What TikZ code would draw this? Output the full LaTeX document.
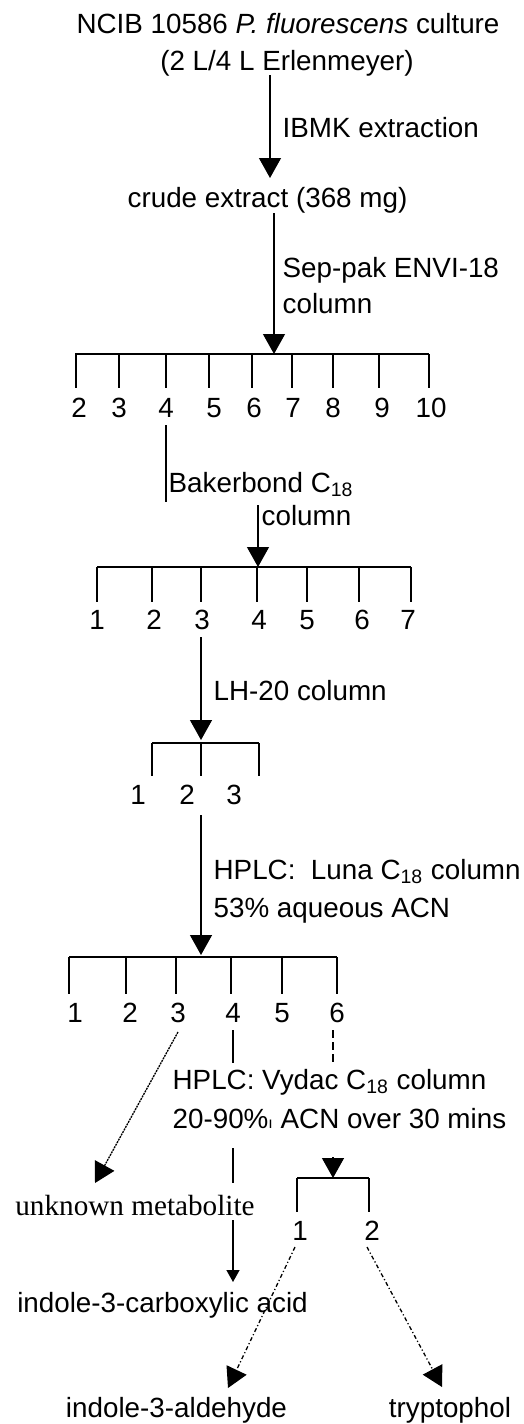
\documentclass[tikz,border=0pt]{standalone}
\usepackage{fontspec}
\setmainfont{Liberation Sans}
\newfontfamily\seriffam{Liberation Serif}
\usetikzlibrary{arrows.meta}
\newcommand{\fsz}{\fontsize{13.9}{16}\selectfont}
\begin{document}
\begin{tikzpicture}[x=0.5pt,y=-0.5pt,line width=0.65pt,
  txt/.style={font=\fsz,inner sep=0pt},
  lt/.style={txt,anchor=base west},
  ct/.style={txt,anchor=base},
  arr/.style={-{Triangle[length=10pt,width=11pt]}},
  sarr/.style={-{Triangle[length=6pt,width=6.5pt]}},
  dsh/.style={dash pattern=on 4pt off 2pt},
  dtt/.style={dash pattern=on 1pt off 0.45pt},
  dshdot/.style={dash pattern=on 2pt off 1.2pt on 0.6pt off 1.2pt}]
\useasboundingbox (0,0) rectangle (524,1424);

% title
\node[ct] (t1) at (288,33) {NCIB 10586 \textit{P. fluorescens} culture};
\node[ct] (t2) at (287,70) {(2 L/4 L Erlenmeyer)};
\coordinate (a1s) at (270,75);
\coordinate (a1e) at (270,178);
\draw[arr] (a1s) -- (a1e);
\node[lt] (ibmk) at (282,137) {IBMK extraction};

\node[ct] (crude) at (267.5,207) {crude extract (368 mg)};
\coordinate (a2s) at (274,213);
\coordinate (a2e) at (274,354);
\draw[arr] (a2s) -- (a2e);
\node[lt] (sep1) at (282,277) {Sep-pak ENVI-18};
\node[lt] (sep2) at (282,313) {column};

% bar 1
\coordinate (b1l) at (75,354);
\coordinate (b1r) at (429,354);
\draw (b1l) -- (b1r);
\foreach \x/\lx/\n in {76/79/2,119/119/3,166/166/4,209/214/5,252/254/6,292/293/7,333/333/8,379/382/9,429/431/10}{
  \coordinate (b1t\n) at (\x,354);
  \coordinate (b1b\n) at (\x,388);
  \draw (b1t\n) -- (b1b\n);
  \node[ct] (f1\n) at (\lx,417) {\n};
}
\coordinate (c4a) at (166,425);
\coordinate (c4b) at (166,502);
\draw (c4a) -- (c4b);
\node[lt] (bak) at (168,492) {Bakerbond C\textsubscript{18}};
\coordinate (a3s) at (258,505);
\coordinate (a3e) at (258,567);
\draw[arr] (a3s) -- (a3e);
\node[lt] (bak2) at (261,525) {column};

% bar 2
\coordinate (b2l) at (97,567);
\coordinate (b2r) at (411,567);
\draw (b2l) -- (b2r);
\foreach \x/\lx/\n in {97/97/1,152/154/2,201/202/3,257/259/4,307/307/5,359/362/6,411/408/7}{
  \coordinate (b2t\n) at (\x,567);
  \coordinate (b2b\n) at (\x,602);
  \draw (b2t\n) -- (b2b\n);
  \node[ct] (f2\n) at (\lx,629) {\n};
}
\coordinate (a4s) at (201,637);
\coordinate (a4e) at (201,740);
\draw[arr] (a4s) -- (a4e);
\node[lt] (lh) at (213,700) {LH-20 column};

% bar 3
\coordinate (b3l) at (152,743);
\coordinate (b3r) at (259,743);
\draw (b3l) -- (b3r);
\foreach \x/\lx/\n in {152/138/1,201/187/2,259/234/3}{
  \coordinate (b3t\n) at (\x,743);
  \coordinate (b3b\n) at (\x,776);
  \draw (b3t\n) -- (b3b\n);
  \node[ct] (f3\n) at (\lx,804) {\n};
}
\coordinate (a5s) at (201,815);
\coordinate (a5e) at (201,955);
\draw[arr] (a5s) -- (a5e);
\node[lt] (luna) at (213,879) {HPLC:\ \ Luna C\textsubscript{18} column};
\node[lt] (aq) at (213,917) {53\% aqueous ACN};

% bar 4
\coordinate (b4l) at (69,957);
\coordinate (b4r) at (337,957);
\draw (b4l) -- (b4r);
\foreach \x/\lx/\n in {69/75/1,126/130/2,176/178/3,231/233/4,282/282/5,337/337/6}{
  \coordinate (b4t\n) at (\x,957);
  \coordinate (b4b\n) at (\x,994);
  \draw (b4t\n) -- (b4b\n);
  \node[ct] (f4\n) at (\lx,1022) {\n};
}

% fraction 3 -> unknown metabolite
\node[ct,font=\seriffam\fontsize{14.6}{16}\selectfont] (unk) at (135,1215) {unknown metabolite};
\coordinate (d3s) at (178,1032);
\coordinate (d3e) at (95,1183);
\draw[arr,dtt] (d3s) -- (d3e);

% fraction 4 -> indole-3-carboxylic acid
\node[lt] (vyd) at (172,1089) {HPLC: Vydac C\textsubscript{18} column};
\node[lt] (grad) at (172,1128) {20-90\%{\fontsize{8}{8}\selectfont ı} ACN over 30 mins};
\coordinate (c4s1) at (233,1030);
\coordinate (c4e1) at (233,1063);
\coordinate (c4s2) at (233,1148);
\coordinate (c4e2) at (233,1183);
\coordinate (c4s3) at (233,1220);
\coordinate (c4e3) at (233,1282);
\draw (c4s1) -- (c4e1);
\draw (c4s2) -- (c4e2);
\draw[sarr] (c4s3) -- (c4e3);
\node[ct] (ica) at (162.5,1312) {indole-3-carboxylic acid};

% fraction 6 -> bar 5
\coordinate (c6s) at (333,1030);
\coordinate (c6e) at (333,1065);
\draw[dsh] (c6s) -- (c6e);
\coordinate (a6s) at (333,1157);
\coordinate (a6e) at (333,1178);
\draw[arr] (a6s) -- (a6e);

% bar 5
\coordinate (b5l) at (297,1178);
\coordinate (b5r) at (369,1178);
\draw (b5l) -- (b5r);
\foreach \x/\lx/\n in {297/300/1,369/372/2}{
  \coordinate (b5t\n) at (\x,1178);
  \coordinate (b5b\n) at (\x,1212);
  \draw (b5t\n) -- (b5b\n);
  \node[ct] (f5\n) at (\lx,1240) {\n};
}
\node[ct] (ald) at (176.5,1417) {indole-3-aldehyde};
\node[ct] (try) at (450,1417) {tryptophol};
\coordinate (e1s) at (295,1247);
\coordinate (e1e) at (228,1388);
\coordinate (e2s) at (367,1247);
\coordinate (e2e) at (442,1387);
\draw[arr,dshdot] (e1s) -- (e1e);
\draw[arr,dshdot] (e2s) -- (e2e);
\end{tikzpicture}
\end{document}
